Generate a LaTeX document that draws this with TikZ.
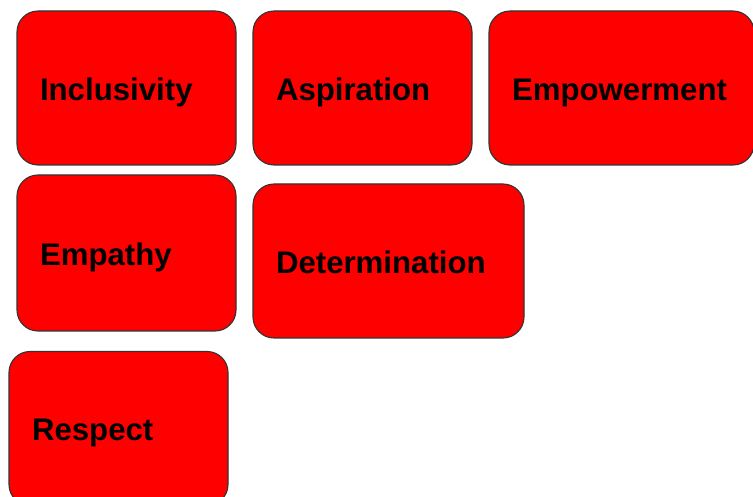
\documentclass[tikz,border=0pt]{standalone}
\usepackage{fontspec}
\setmainfont{Liberation Sans}
\definecolor{boxred}{HTML}{FF0000}
\definecolor{boxline}{HTML}{333333}
\tikzset{
  valuebox/.style={draw=boxline, fill=boxred, line width=1.1pt, rounded corners=21pt,
    inner sep=0pt, minimum height=154pt, text height=24.5pt, text depth=0pt,
    align=left, font=\fontsize{31.2}{37}\selectfont\bfseries, text=black},
  wbox/.style={valuebox, minimum width=#1, text width=#1-46pt}
}
\begin{document}
\begin{tikzpicture}[x=1pt,y=-1pt]
\useasboundingbox (0,0) rectangle (753,497);
\clip (0,0) rectangle (753,497);
\node[wbox=219pt] (incl) at (126.5,88) {Inclusivity};
\node[wbox=219pt] (asp) at (362.5,88) {Aspiration};
\node[wbox=265pt] (emp) at (621.5,88) {Empowerment};
\node[wbox=219pt, minimum height=156pt] (empa) at (126.5,253) {Empathy};
\node[wbox=271pt] (det) at (388.5,261) {Determination};
\node[wbox=219pt] (resp) at (118.5,428.5) {Respect};
\end{tikzpicture}
\end{document}
